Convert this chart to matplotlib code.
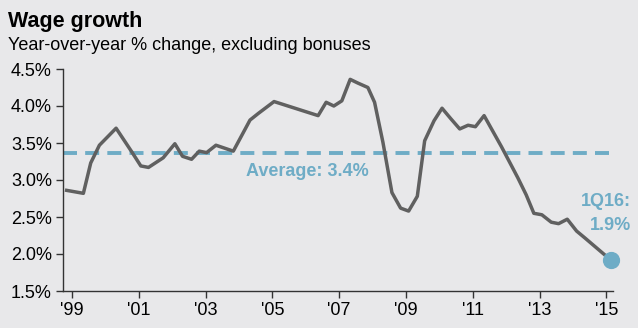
import matplotlib.pyplot as plt
import numpy as np

plt.rcParams['font.family'] = ['Liberation Sans', 'DejaVu Sans']

# quarterly wage growth, % y/y (positions on the axis in fractional years)
years = [1998.84, 1999.34, 1999.56, 1999.82, 2000.32, 2000.79, 2001.06, 2001.29,
         2001.73, 2002.08, 2002.31, 2002.58, 2002.81, 2003.03, 2003.31, 2003.83,
         2004.33, 2004.58, 2005.05, 2006.37, 2006.61, 2006.84, 2007.08, 2007.33,
         2007.56, 2007.86, 2008.06, 2008.31, 2008.58, 2008.84, 2009.08, 2009.34,
         2009.56, 2009.84, 2010.08, 2010.34, 2010.61, 2010.86, 2011.08, 2011.34,
         2011.86, 2012.35, 2012.60, 2012.83, 2013.07, 2013.35, 2013.57, 2013.83,
         2014.11, 2014.35, 2015.13]
wage = [2.86, 2.82, 3.23, 3.47, 3.70, 3.38, 3.19, 3.17,
        3.30, 3.49, 3.32, 3.28, 3.39, 3.37, 3.47, 3.39,
        3.81, 3.90, 4.06, 3.87, 4.05, 4.00, 4.07, 4.36,
        4.31, 4.25, 4.05, 3.51, 2.83, 2.62, 2.58, 2.78,
        3.53, 3.80, 3.97, 3.83, 3.69, 3.74, 3.72, 3.87,
        3.45, 3.03, 2.80, 2.55, 2.53, 2.43, 2.41, 2.47,
        2.31, 2.22, 1.92]
average = 3.36
tick_years = [1999, 2001, 2003, 2005, 2007, 2009, 2011, 2013, 2015]
tick_labels = ["'99", "'01", "'03", "'05", "'07", "'09", "'11", "'13", "'15"]
y_ticks = [1.5, 2.0, 2.5, 3.0, 3.5, 4.0, 4.5]

bg = '#E8E8EA'
blue = '#6EACC6'
fig = plt.figure(figsize=(6.38, 3.28), dpi=100, facecolor=bg)
ax = fig.add_axes([63 / 638, 1 - 291 / 328, (613 - 63) / 638, (291 - 69) / 328])
ax.set_facecolor(bg)

ax.plot(years, wage, color='#606060', lw=2.5, solid_joinstyle='round', zorder=3)
ax.plot([1998.73, years[-1]], [average, average], color=blue, lw=2.8,
        dashes=(3.6, 2.1), zorder=2)
ax.scatter([years[-1]], [wage[-1]], s=130, color=blue, zorder=4, clip_on=False)

ax.text(2006.05, 3.12, 'Average: 3.4%', color=blue, fontsize=13,
        fontweight='bold', ha='center', va='center')
ax.text(2015.75, 2.71, '1Q16:', color=blue, fontsize=13,
        fontweight='bold', ha='right', va='center')
ax.text(2015.75, 2.39, '1.9%', color=blue, fontsize=13,
        fontweight='bold', ha='right', va='center')

ax.set_xlim(1998.73, 2015.2)
ax.set_ylim(1.5, 4.5)
ax.set_xticks(tick_years)
ax.set_xticklabels(tick_labels)
ax.set_yticks(y_ticks)
ax.set_yticklabels([f'{v:.1f}%' for v in y_ticks])
ax.tick_params(labelsize=13, length=5, width=1, color='#333333', pad=3)
for s in ['top', 'right']:
    ax.spines[s].set_visible(False)
for s in ['left', 'bottom']:
    ax.spines[s].set_color('#333333')
    ax.spines[s].set_linewidth(1)
ax.spines['left'].set_bounds(1.5, 4.5)

fig.text(8 / 638, 1 - 21 / 328, 'Wage growth', fontsize=15.5, fontweight='bold',
         va='center', ha='left')
fig.text(8 / 638, 1 - 46 / 328, 'Year-over-year % change, excluding bonuses',
         fontsize=13, va='center', ha='left')

fig.savefig('out.png', dpi=100, facecolor=bg)
